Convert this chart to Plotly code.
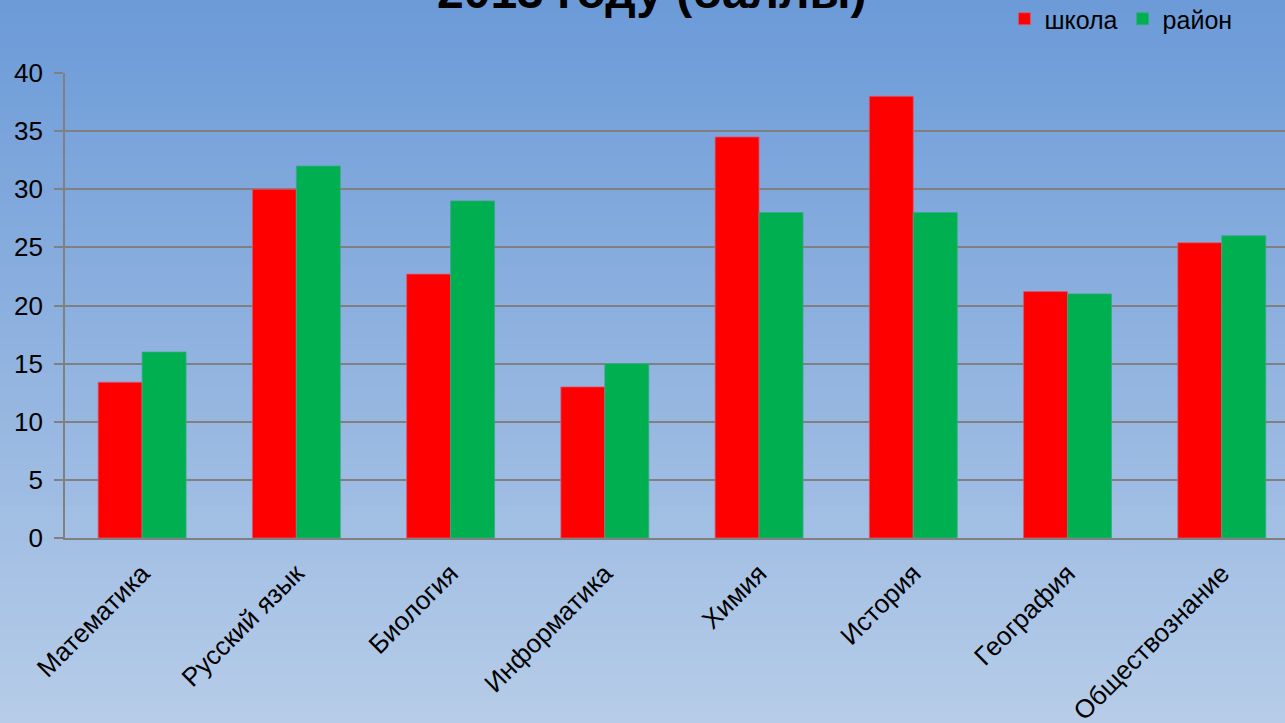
import plotly.graph_objects as go

categories = ["Математика", "Русский язык", "Биология", "Информатика",
              "Химия", "История", "География", "Обществознание"]
school = [13.4, 30, 22.7, 13, 34.5, 38, 21.2, 25.4]
district = [16, 32, 29, 15, 28, 28, 21, 26]
series_names = ["школа", "район"]
title_text = "2013 году (баллы)"

W, H = 1285, 723
ML, MT, MB = 65, 73, 185
plot_h = H - MT - MB

fig = go.Figure()
fig.add_trace(go.Bar(name=series_names[0], x=categories, y=school,
                     marker=dict(color="#ff0000", line=dict(color="#d85a78", width=0.8))))
fig.add_trace(go.Bar(name=series_names[1], x=categories, y=district,
                     marker=dict(color="#00b050", line=dict(color="#3aa88a", width=0.8))))

# background gradient via stripes (paper coords)
top = (108, 155, 216)
bot = (182, 204, 232)
n = 60
shapes = []
for i in range(n):
    t = i / (n - 1)
    c = tuple(round(top[k] + (bot[k] - top[k]) * t) for k in range(3))
    y0px = H * i / n - (2 if i == 0 else 0)
    y1px = H * (i + 1) / n + (3 if i == n - 1 else 1)
    y0 = 1 - (y0px - MT) / plot_h
    y1 = 1 - (y1px - MT) / plot_h
    shapes.append(dict(type="rect", xref="paper", yref="paper",
                       x0=-ML / (W - ML) - 0.01, x1=1.01, y0=y1, y1=y0,
                       fillcolor="rgb(%d,%d,%d)" % c, line=dict(width=0),
                       layer="below"))

fig.update_layout(
    width=W, height=H,
    margin=dict(l=ML, r=0, t=MT, b=MB, autoexpand=False),
    paper_bgcolor="#8fb0dd",
    plot_bgcolor="rgba(0,0,0,0)",
    shapes=shapes,
    barmode="group", bargap=0.43, bargroupgap=0,
    font=dict(family="Liberation Sans, Arial", size=26, color="#000000"),
    legend=dict(orientation="h", x=0.77, xanchor="left", y=1 + (MT - 19) / plot_h,
                yanchor="middle", bgcolor="rgba(0,0,0,0)", font=dict(size=25)),
    annotations=[dict(text="<b>" + title_text + "</b>", xref="paper", yref="paper",
                      x=(652 - ML) / (W - ML), y=1 + (MT + 9) / plot_h,
                      xanchor="center", yanchor="middle", showarrow=False,
                      font=dict(size=48, color="#000000"))],
)
fig.update_xaxes(range=[-0.5, 7.41], tickangle=-45, showline=True, linecolor="#808080",
                 linewidth=1.6, ticks="", showgrid=False, tickfont=dict(size=26),
                 ticklabelstandoff=8, automargin=False)
fig.update_yaxes(range=[0, 40], dtick=5, showgrid=True, gridcolor="#808080", gridwidth=1.6,
                 showline=True, linecolor="#808080", linewidth=1.6, ticks="outside",
                 ticklen=9, tickcolor="#808080", tickwidth=1.6, zeroline=False,
                 ticklabelstandoff=6, tickfont=dict(size=26), automargin=False)

fig.write_html("out.html", config={"displayModeBar": False},
               post_script="document.body.style.margin='0';")
